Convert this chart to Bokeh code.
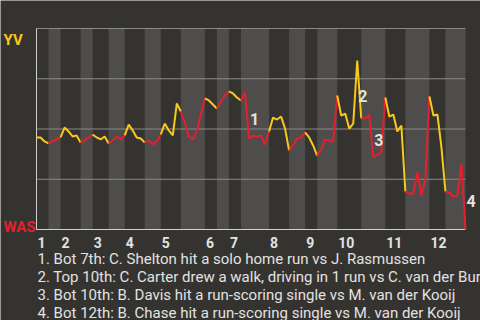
from bokeh.plotting import figure
from bokeh.models import Range1d, Label
from bokeh.embed import file_html
from bokeh.resources import INLINE

# ---------------- data ----------------
away_team = "YV"
home_team = "WAS"
innings = list(range(1, 13))
top_plays = [3, 5, 4, 5, 5, 3, 3, 5, 3, 6, 5, 4]
bot_plays = [3, 3, 4, 4, 6, 3, 7, 4, 5, 6, 6, 5]

# YV win probability (%) after each play (index 0 = first pitch)
yv_win_pct = [
    45.8, 45.8, 43.8, 42.8, 43.8, 45.0, 45.8, 50.7, 48.8, 46.3,
    46.8, 43.3, 44.3, 45.8, 47.3, 45.8, 44.8, 46.3, 42.8, 44.3,
    46.3, 44.8, 46.8, 52.2, 49.3, 45.8, 45.3, 43.3, 44.3, 42.3,
    43.8, 47.3, 52.7, 49.3, 46.8, 62.7, 58.7, 53.2, 46.3, 44.8,
    48.8, 57.2, 65.2, 64.2, 62.2, 60.2, 63.7, 66.7, 68.7, 67.7,
    65.7, 64.2, 68.2, 45.3, 46.8, 46.3, 46.8, 42.3, 48.8, 55.7,
    54.7, 56.2, 50.2, 39.3, 41.8, 45.3, 45.8, 48.3, 45.8, 41.8,
    36.8, 39.8, 44.8, 44.3, 43.8, 66.7, 56.7, 57.7, 50.2, 52.7,
    84.1, 55.2, 55.2, 57.2, 35.8, 37.3, 38.3, 65.7, 56.2, 57.2,
    48.8, 51.7, 18.9, 17.9, 17.9, 28.4, 16.9, 25.4, 66.2, 56.7,
    57.2, 40.8, 18.9, 18.4, 16.4, 16.9, 32.8, 0.0,
]
grid_levels = [25, 50, 75, 100]

event_plays = [53, 80, 84, 107]
event_labels = ["1", "2", "3", "4"]
event_texts = [
    "1. Bot 7th: C. Shelton hit a solo home run vs J. Rasmussen",
    "2. Top 10th: C. Carter drew a walk, driving in 1 run vs C. van der Burg",
    "3. Bot 10th: B. Davis hit a run-scoring single vs M. van der Kooij",
    "4. Bot 12th: B. Chase hit a run-scoring single vs M. van der Kooij",
]

# ---------------- style ----------------
BG = "#353330"
BAND = "#4e4d4b"
YELLOW = "#f8c81c"
RED = "#e4202e"
GRID = "#8a8a8a"
AXIS = "#cfcfcf"
TXT = "#e2e2e2"
FONT = "Roboto"

n_plays = len(yv_win_pct) - 1
W, H = 480, 320
PL, PR, PT, PB = 36, 465, 28, 229   # chart area in screen pixels


def dx(px):  # screen-x (px from left) -> data x
    return (px - PL) * n_plays / (PR - PL)


def dy(py):  # screen-y (px from top) -> data y
    return (PB - py) * 100.0 / (PB - PT)


p = figure(width=W, height=H, output_backend="svg", toolbar_location=None,
           x_range=Range1d(dx(0), dx(W)), y_range=Range1d(dy(H), dy(0)),
           min_border=0, background_fill_color=BG,
           border_fill_color=BG, outline_line_color=None)
p.axis.visible = False
p.grid.visible = False

# half-inning boundaries
halves = []
pos = 0
for i, inn in enumerate(innings):
    halves.append(("top", inn, pos, pos + top_plays[i]))
    pos += top_plays[i]
    halves.append(("bot", inn, pos, pos + bot_plays[i]))
    pos += bot_plays[i]

bot_left = [h[2] for h in halves if h[0] == "bot"]
bot_right = [h[3] for h in halves if h[0] == "bot"]
p.quad(left=bot_left, right=bot_right, bottom=0, top=100,
       fill_color=BAND, line_color=None)

# grid lines and axes
p.segment(x0=0, x1=n_plays, y0=grid_levels, y1=grid_levels,
          line_color=GRID, line_width=1)
p.segment(x0=0, x1=n_plays, y0=0, y1=0, line_color=AXIS, line_width=1)
p.segment(x0=0, x1=0, y0=0, y1=100, line_color=AXIS, line_width=1)

for half, inn, s, e in halves:
    xs = list(range(s, e + 1))
    ys = yv_win_pct[s:e + 1]
    p.line(xs, ys, line_color=YELLOW if half == "top" else RED,
           line_width=2)

# team labels
p.add_layout(Label(x=dx(3), y=dy(39), text=away_team, text_color=YELLOW,
                   text_font=FONT, text_font_style="bold",
                   text_font_size="15px", text_baseline="alphabetic"))
p.add_layout(Label(x=dx(3), y=dy(226), text=home_team, text_color=RED,
                   text_font=FONT, text_font_style="bold",
                   text_font_size="15px", text_baseline="alphabetic"))

# inning labels
for half, inn, s, e in halves:
    if half == "top":
        p.add_layout(Label(x=s, y=dy(242), x_offset=1, text=str(inn),
                           text_color=TXT, text_font=FONT,
                           text_font_style="bold", text_font_size="14px",
                           text_baseline="alphabetic"))

# event markers
for ep, lab in zip(event_plays, event_labels):
    mx = ep - 0.5
    my = (yv_win_pct[ep - 1] + yv_win_pct[ep]) / 2
    p.add_layout(Label(x=mx, y=my, x_offset=3, y_offset=-4, text=lab,
                       text_color=TXT, text_font=FONT,
                       text_font_style="bold", text_font_size="16px",
                       text_baseline="middle"))

# event descriptions
for k, t in enumerate(event_texts):
    p.add_layout(Label(x=dx(37), y=dy(258 + 18 * k), text=t,
                       text_color=TXT, text_font=FONT,
                       text_font_size="15px", text_baseline="alphabetic"))

open("out.html", "w").write(file_html(p, INLINE))
